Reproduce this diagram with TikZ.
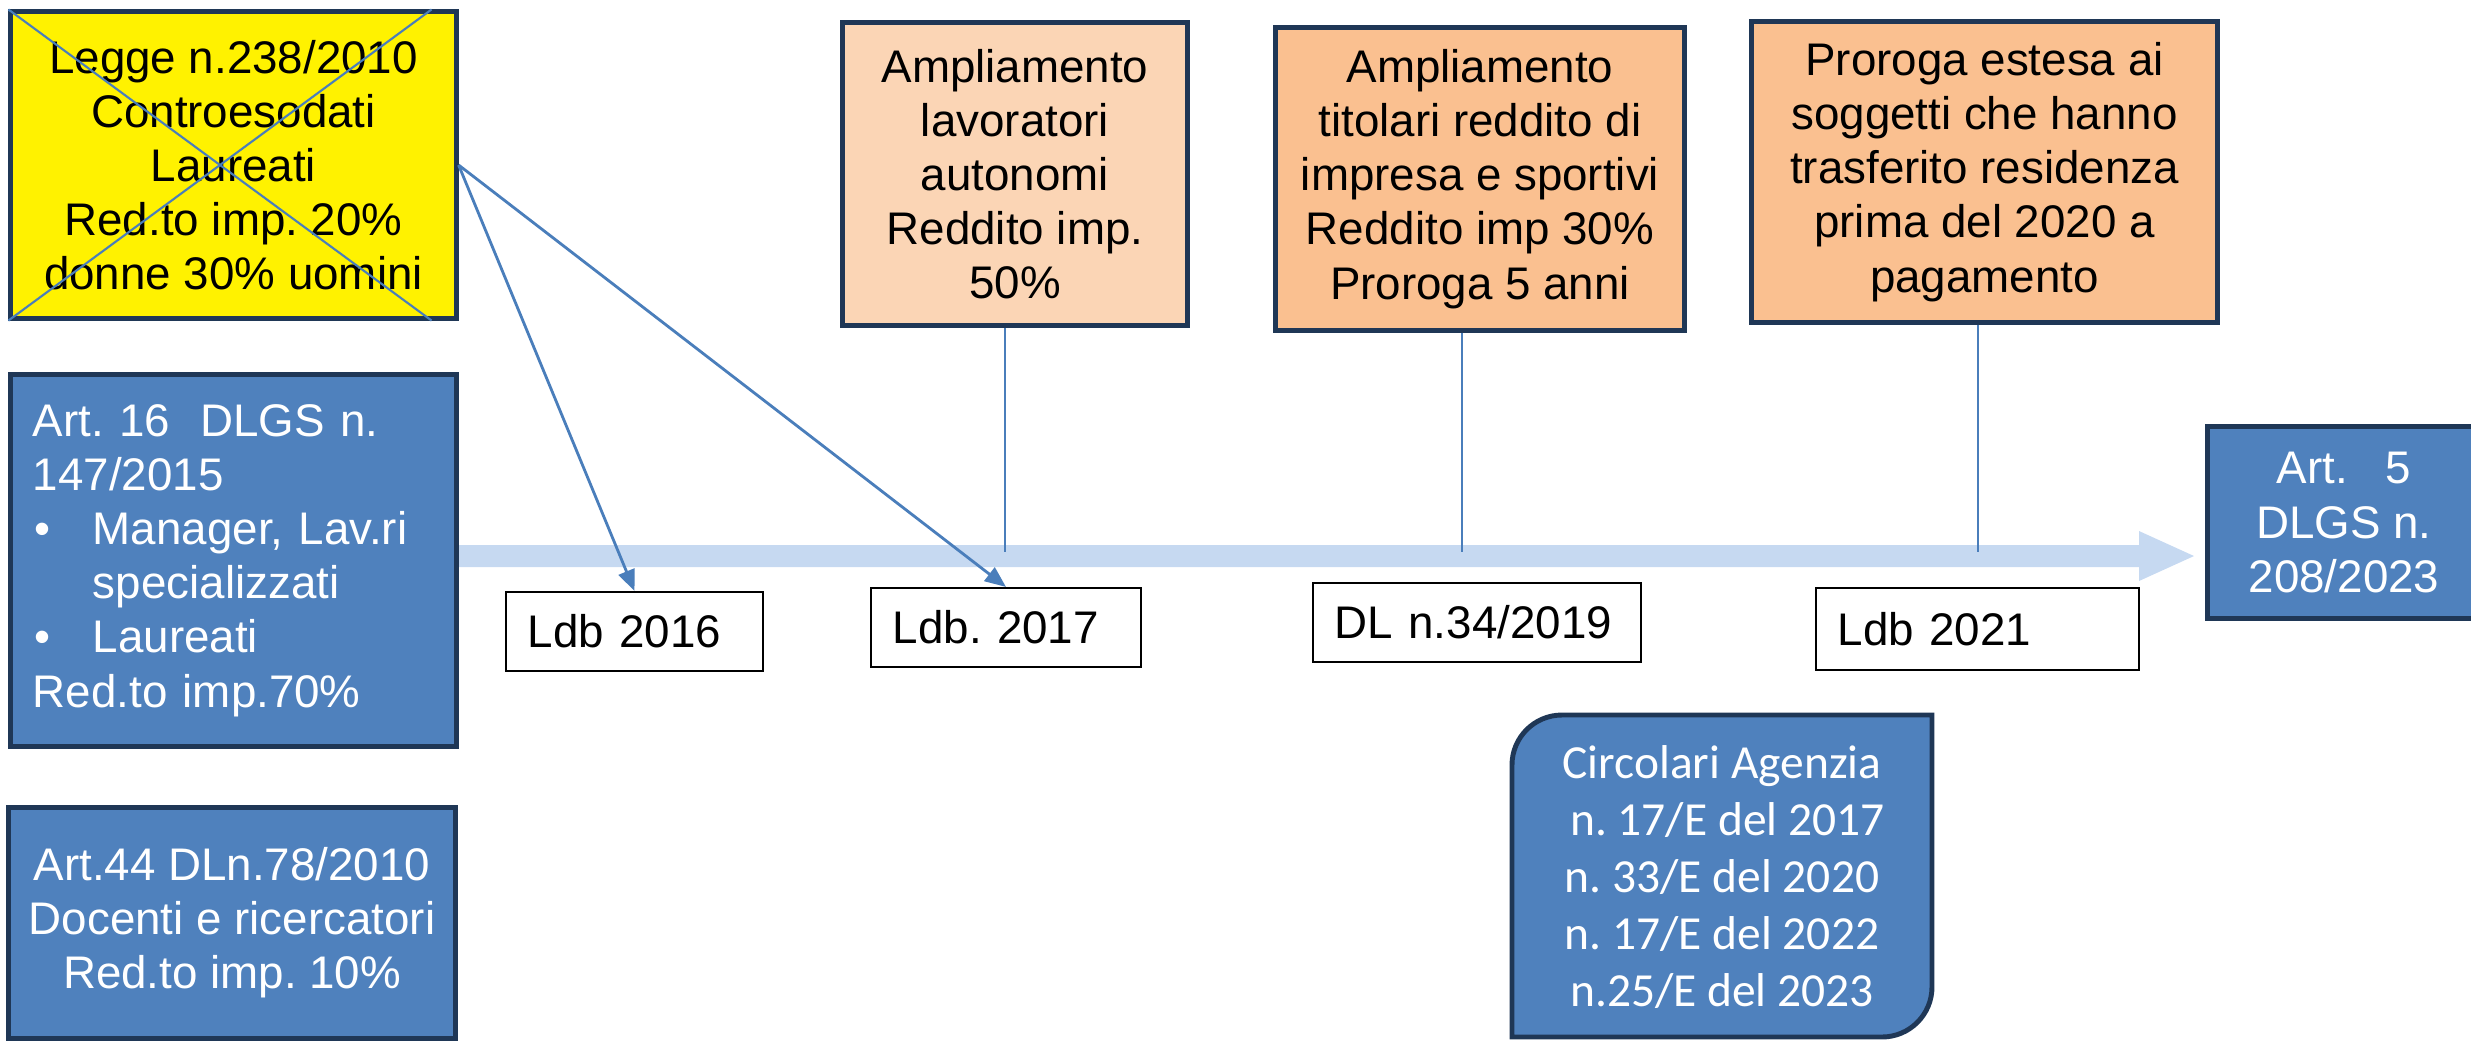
\documentclass[tikz,border=0pt]{standalone}
\usepackage{fontspec}
\setmainfont{Liberation Sans}
\newfontfamily\carlitofont{Carlito}
\usetikzlibrary{arrows.meta}
\frenchspacing

\definecolor{boxedge}{HTML}{1F3756}
\definecolor{boxblue}{HTML}{4F81BD}
\definecolor{peachlight}{HTML}{FBD5B5}
\definecolor{peach}{HTML}{FAC090}
\definecolor{timeblue}{HTML}{C6D9F1}
\definecolor{linkblue}{HTML}{4A7EBB}

\newcommand{\legfont}{\fontsize{13pt}{15.4pt}\selectfont}
\newcommand{\circfont}{\carlitofont\fontsize{13.5pt}{16.2pt}\selectfont}

\tikzset{
  lawbox/.style={draw=boxedge, line width=1.4pt, inner sep=0pt, align=center, font=\legfont},
  bluebox/.style={lawbox, fill=boxblue, text=white},
  datebox/.style={draw=black, line width=0.6pt, fill=white, inner xsep=0.22cm, inner ysep=0pt, align=left, font=\legfont},
  tickline/.style={draw=linkblue, line width=0.5pt},
  pointer/.style={draw=linkblue, line width=0.8pt, -{Triangle[length=2.1mm,width=1.7mm]}},
}

\begin{document}
\begin{tikzpicture}[x=0.01cm, y=-0.01cm]
    \useasboundingbox (0,0) rectangle (2471,1041);

    % Timeline arrow
    \fill[timeblue] (457,545) -- (2139,545) -- (2139,531) -- (2194,556)
        -- (2139,581) -- (2139,567) -- (457,567) -- cycle;
    \coordinate (t17) at (1005,552);
    \coordinate (t19) at (1462,552);
    \coordinate (t21) at (1978,552);

    % Left column
    \node[lawbox, fill=yellow, minimum width=4.45cm, minimum height=3.06cm] (legge) at (233.5,165)
        {Legge n.238/2010\\Controesodati\\Laureati\\Red.to imp. 20\%\\donne 30\% uomini};
    \draw[line width=0.6pt, linkblue] (legge.north west) -- ([xshift=-0.27cm]legge.south east);
    \draw[line width=0.6pt, linkblue] (legge.south west) -- ([xshift=-0.27cm]legge.north east);

    \node[bluebox, align=left, text width=4.01cm, inner xsep=0.22cm, minimum height=3.71cm] (art16) at (233.5,560.5)
        {Art. 16\ \ DLGS n.\\147/2015\\\makebox[0.6cm][l]{\hspace{0.02cm}\textbullet}Manager, Lav.ri\\\hspace*{0.6cm}specializzati\\\makebox[0.6cm][l]{\hspace{0.02cm}\textbullet}Laureati\\Red.to imp.70\%};

    \node[bluebox, minimum width=4.46cm, minimum height=2.30cm] (art44) at (232,923)
        {Art.44 DLn.78/2010\\Docenti e ricercatori\\Red.to imp. 10\%};

    % Top boxes
    \node[lawbox, fill=peachlight, minimum width=3.44cm, minimum height=3.02cm] (amp1) at (1015,174)
        {Ampliamento\\lavoratori\\autonomi\\Reddito imp.\\50\%};
    \node[lawbox, fill=peach, minimum width=4.08cm, minimum height=3.02cm] (amp2) at (1480,179)
        {Ampliamento\\titolari reddito di\\impresa e sportivi\\Reddito imp 30\%\\Proroga 5 anni};
    \node[lawbox, fill=peach, minimum width=4.65cm, minimum height=3.00cm] (proroga) at (1984.5,172)
        {Proroga estesa ai\\soggetti che hanno\\trasferito residenza\\prima del 2020 a\\pagamento};

    % Right box
    \node[bluebox, minimum width=2.72cm, minimum height=1.91cm] (art5) at (2344,522.5)
        {Art.\ \ \ 5\\DLGS n.\\208/2023};

    % Dates under the timeline
    \node[datebox, text width=2.13cm, minimum height=0.79cm] (ldb16) at (634.5,631.5) {Ldb 2016};
    \node[datebox, text width=2.26cm, minimum height=0.79cm] (ldb17) at (1006,627.5) {Ldb. 2017};
    \node[datebox, text width=2.84cm, minimum height=0.79cm] (dl19) at (1477,622.5) {DL n.34/2019};
    \node[datebox, text width=2.79cm, minimum height=0.82cm] (ldb21) at (1977.5,629) {Ldb 2021};

    % Circolari
    \draw[boxedge, line width=1.4pt, fill=boxblue] (1512,1037) -- (1512,765)
        arc[start angle=180, end angle=270, radius=50] -- (1932,715) -- (1932,987)
        arc[start angle=0, end angle=90, radius=50] -- cycle;
    \node[align=center, text=white, font=\circfont] (circ) at (1722,877)
        {Circolari Agenzia\\~n. 17/E del 2017\\n. 33/E del 2020\\n. 17/E del 2022\\n.25/E del 2023};

    % Links
    \draw[tickline] (amp1.south -| t17) -- (t17);
    \draw[tickline] (amp2.south -| t19) -- (t19);
    \draw[tickline] (proroga.south -| t21) -- (t21);
    \draw[pointer] (legge.east) -- (ldb16.north);
    \draw[pointer] (legge.east) -- (ldb17.north);
\end{tikzpicture}
\end{document}
